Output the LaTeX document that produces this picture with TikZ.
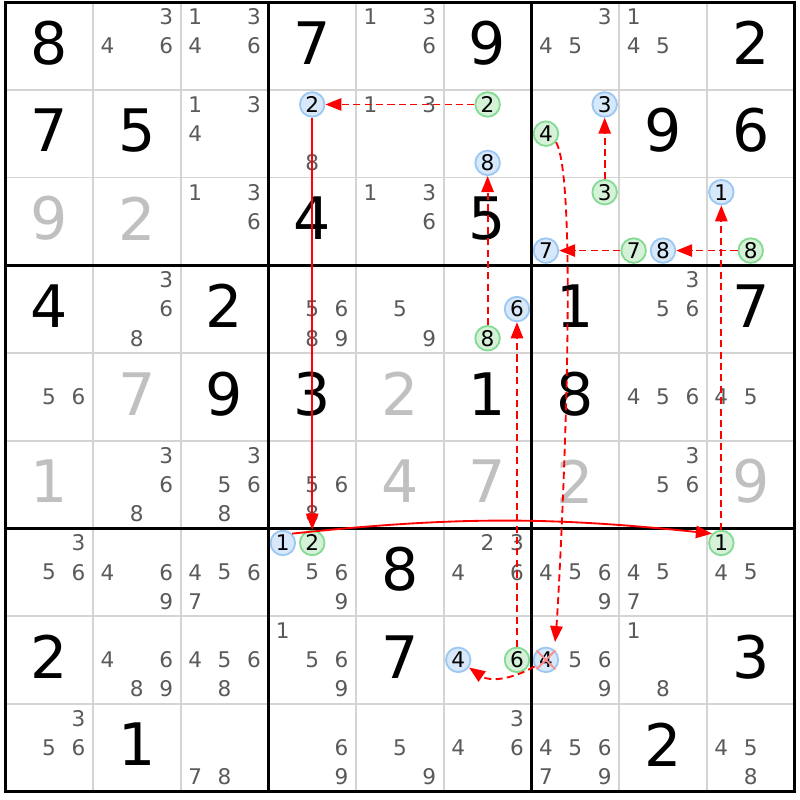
\documentclass[tikz,border=0pt]{standalone}
\usepackage{fontspec}
\setmainfont{DejaVu Sans}
\usepackage{xcolor}
\usetikzlibrary{arrows.meta}
\definecolor{candgray}{HTML}{5A5A5A}
\definecolor{solvedgray}{HTML}{C0C0C0}
\definecolor{gridgray}{HTML}{D4D4D4}
\definecolor{offfill}{HTML}{D6E8FA}
\definecolor{offline}{HTML}{9DC8F2}
\definecolor{onfill}{HTML}{D5F2D9}
\definecolor{online}{HTML}{85DA94}
\definecolor{crossred}{HTML}{FF8C8C}

\tikzset{
  givenbox/.style={font=\fontsize{19}{20}\selectfont, text=black, inner sep=0pt},
  solvedbox/.style={givenbox, text=solvedgray},
  cand/.style={font=\fontsize{7}{8}\selectfont, text=candgray, inner sep=0pt},
  offcand/.style={circle, draw=offline, fill=offfill, line width=0.6pt,
    minimum size=0.28cm, inner sep=0pt, font=\fontsize{7}{8}\selectfont, text=black},
  oncand/.style={offcand, draw=online, fill=onfill},
  strong/.style={red, line width=0.6pt, -{Triangle[length=5.2pt,width=4pt]}},
  weak/.style={strong, dash pattern=on 2.3pt off 1.4pt},
}

% cifre nelle celle
\newcommand{\givendigit}[3]{\node[givenbox] at ({#1-0.5},{-#2+0.535}) {#3};}
\newcommand{\solveddigit}[3]{\node[solvedbox] at ({#1-0.5},{-#2+0.535}) {#3};}
\newcommand{\cands}[3]{\foreach \d in {#3}
  \node[cand] at ({#1-1+0.165+0.335*mod(\d-1,3)},{-(#2-1)-0.167-0.333*floor((\d-1)/3)}) {\d};}
\newcommand{\markcand}[4]{\node[#1] (r#3c#2d#4)
  at ({#2-1+0.165+0.335*mod(#4-1,3)},{-(#3-1)-0.167-0.333*floor((#4-1)/3)}) {#4};}

\begin{document}
\begin{tikzpicture}
    \useasboundingbox[fill=white] (-0.060,0.024) rectangle (9.062,-9.098);
    % Disegna la griglia sottile
    \foreach \i in {1,2,4,5,7,8} {
      \draw[gridgray, line width=0.6pt] (\i,0) -- (\i,-9);
      \draw[gridgray, line width=0.6pt] (0,-\i) -- (9,-\i);
    }
    % Riga 1
    \givendigit{1}{1}{8} \cands{2}{1}{3,4,6} \cands{3}{1}{1,3,4,6}
    \givendigit{4}{1}{7} \cands{5}{1}{1,3,6} \givendigit{6}{1}{9}
    \cands{7}{1}{3,4,5} \cands{8}{1}{1,4,5} \givendigit{9}{1}{2}
    % Riga 2
    \givendigit{1}{2}{7} \givendigit{2}{2}{5} \cands{3}{2}{1,3,4}
    \cands{4}{2}{8} \markcand{offcand}{4}{2}{2}
    \cands{5}{2}{1,3}
    \markcand{oncand}{6}{2}{2} \markcand{offcand}{6}{2}{8}
    \markcand{offcand}{7}{2}{3} \markcand{oncand}{7}{2}{4}
    \givendigit{8}{2}{9} \givendigit{9}{2}{6}
    % Riga 3
    \solveddigit{1}{3}{9} \solveddigit{2}{3}{2} \cands{3}{3}{1,3,6}
    \givendigit{4}{3}{4} \cands{5}{3}{1,3,6} \givendigit{6}{3}{5}
    \markcand{oncand}{7}{3}{3} \markcand{offcand}{7}{3}{7}
    \markcand{oncand}{8}{3}{7} \markcand{offcand}{8}{3}{8}
    \markcand{offcand}{9}{3}{1} \markcand{oncand}{9}{3}{8}
    % Riga 4
    \givendigit{1}{4}{4} \cands{2}{4}{3,6,8} \givendigit{3}{4}{2}
    \cands{4}{4}{5,6,8,9} \cands{5}{4}{5,9}
    \markcand{offcand}{6}{4}{6} \markcand{oncand}{6}{4}{8}
    \givendigit{7}{4}{1} \cands{8}{4}{3,5,6} \givendigit{9}{4}{7}
    % Riga 5
    \cands{1}{5}{5,6} \solveddigit{2}{5}{7} \givendigit{3}{5}{9}
    \givendigit{4}{5}{3} \solveddigit{5}{5}{2} \givendigit{6}{5}{1}
    \givendigit{7}{5}{8} \cands{8}{5}{4,5,6} \cands{9}{5}{4,5}
    % Riga 6
    \solveddigit{1}{6}{1} \cands{2}{6}{3,6,8} \cands{3}{6}{3,5,6,8}
    \cands{4}{6}{5,6,8} \solveddigit{5}{6}{4} \solveddigit{6}{6}{7}
    \solveddigit{7}{6}{2} \cands{8}{6}{3,5,6} \solveddigit{9}{6}{9}
    % Riga 7
    \cands{1}{7}{3,5,6} \cands{2}{7}{4,6,9} \cands{3}{7}{4,5,6,7}
    \cands{4}{7}{5,6,9} \markcand{offcand}{4}{7}{1} \markcand{oncand}{4}{7}{2}
    \givendigit{5}{7}{8} \cands{6}{7}{2,3,4,6}
    \cands{7}{7}{4,5,6,9} \cands{8}{7}{4,5,7}
    \cands{9}{7}{4,5} \markcand{oncand}{9}{7}{1}
    % Riga 8
    \givendigit{1}{8}{2} \cands{2}{8}{4,6,8,9} \cands{3}{8}{4,5,6,8}
    \cands{4}{8}{1,5,6,9} \givendigit{5}{8}{7}
    \markcand{offcand}{6}{8}{4} \markcand{oncand}{6}{8}{6}
    \cands{7}{8}{5,6,9} \markcand{offcand}{7}{8}{4}
    \cands{8}{8}{1,8} \givendigit{9}{8}{3}
    % Riga 9
    \cands{1}{9}{3,5,6} \givendigit{2}{9}{1} \cands{3}{9}{7,8}
    \cands{4}{9}{6,9} \cands{5}{9}{5,9} \cands{6}{9}{3,4,6}
    \cands{7}{9}{4,5,6,7,9} \givendigit{8}{9}{2} \cands{9}{9}{4,5,8}
    % Bordi dei blocchi
    \foreach \i in {0,3,6,9} {
      \draw[black, line width=1pt, line cap=rect] (\i,0) -- (\i,-9);
      \draw[black, line width=1pt, line cap=rect] (0,-\i) -- (9,-\i);
    }
    % candidato eliminato
    \draw[crossred, line width=0.6pt] (r8c7d4.45) -- (r8c7d4.225) (r8c7d4.135) -- (r8c7d4.315);
    % Catena di collegamenti
    \draw[weak] (r2c6d2) -- (r2c4d2);
    \draw[strong] (r2c4d2) -- (r7c4d2);
    \draw[strong] (r7c4d1.45) to[out=6,in=174] (r7c9d1.135);
    \draw[weak] (r7c9d1) -- (r3c9d1);
    \draw[weak] (r3c9d8) -- (r3c8d8);
    \draw[weak] (r3c8d7) -- (r3c7d7);
    \draw[weak] (r3c7d3) -- (r2c7d3);
    \draw[weak] (r4c6d8) -- (r2c6d8);
    \draw[weak] (r8c6d6) -- (r4c6d6);
    \draw[weak, shorten >=2.5pt] (r2c7d4.-40) to[out=-60,in=85,looseness=0.25] (r8c7d4.50);
    \draw[weak] (r8c7d4.-150) to[out=-150,in=-35] (r8c6d4.-35);
\end{tikzpicture}
\end{document}
